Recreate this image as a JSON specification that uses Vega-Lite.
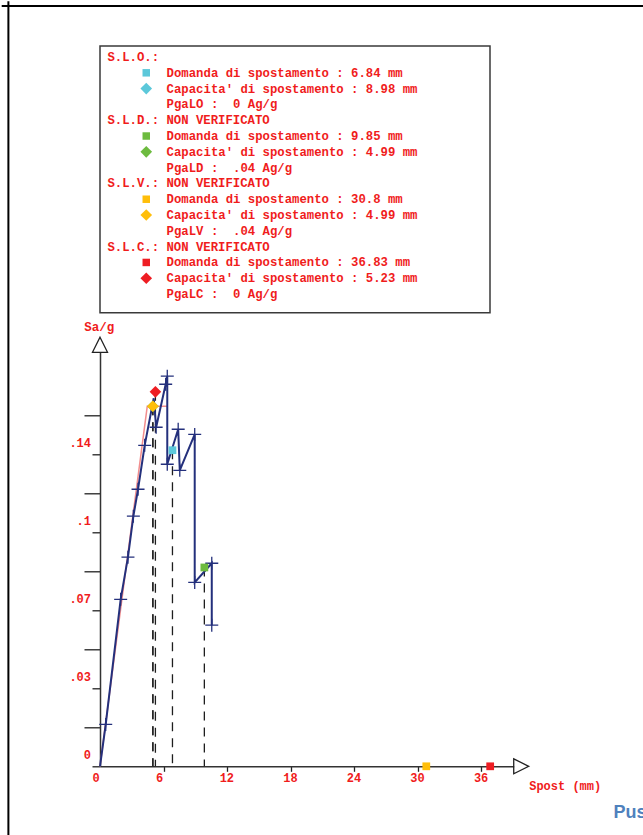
{
  "$schema": "https://vega.github.io/schema/vega-lite/v6.json",
  "background": "white",
  "padding": 0,
  "autosize": {"type": "pad"},
  "bounds": "flush",
  "spacing": 39.3,
  "config": {"view": {"stroke": null}},
  "datasets": {
    "legenda": [
      {"riga": 0, "col": 0, "testo": "S.L.O.:"},
      {"riga": 1, "col": 8, "testo": "Domanda di spostamento : 6.84 mm"},
      {"riga": 2, "col": 8, "testo": "Capacita' di spostamento : 8.98 mm"},
      {"riga": 3, "col": 8, "testo": "PgaLO :\u00a0\u00a00 Ag/g"},
      {"riga": 4, "col": 0, "testo": "S.L.D.: NON VERIFICATO"},
      {"riga": 5, "col": 8, "testo": "Domanda di spostamento : 9.85 mm"},
      {"riga": 6, "col": 8, "testo": "Capacita' di spostamento : 4.99 mm"},
      {"riga": 7, "col": 8, "testo": "PgaLD :\u00a0\u00a0.04 Ag/g"},
      {"riga": 8, "col": 0, "testo": "S.L.V.: NON VERIFICATO"},
      {"riga": 9, "col": 8, "testo": "Domanda di spostamento : 30.8 mm"},
      {"riga": 10, "col": 8, "testo": "Capacita' di spostamento : 4.99 mm"},
      {"riga": 11, "col": 8, "testo": "PgaLV :\u00a0\u00a0.04 Ag/g"},
      {"riga": 12, "col": 0, "testo": "S.L.C.: NON VERIFICATO"},
      {"riga": 13, "col": 8, "testo": "Domanda di spostamento : 36.83 mm"},
      {"riga": 14, "col": 8, "testo": "Capacita' di spostamento : 5.23 mm"},
      {"riga": 15, "col": 8, "testo": "PgaLC :\u00a0\u00a00 Ag/g"}
    ],
    "stati": [
      {"stato": "SLO", "tipo": "domanda", "riga": 1, "spost": 6.84, "sa": 0.1418},
      {"stato": "SLO", "tipo": "capacita", "riga": 2, "spost": 8.98},
      {"stato": "SLD", "tipo": "domanda", "riga": 5, "spost": 9.85, "sa": 0.0892},
      {"stato": "SLD", "tipo": "capacita", "riga": 6, "spost": 4.99, "sa": 0.1615},
      {"stato": "SLV", "tipo": "domanda", "riga": 9, "spost": 30.8, "sa": 0},
      {"stato": "SLV", "tipo": "capacita", "riga": 10, "spost": 4.99, "sa": 0.1615},
      {"stato": "SLC", "tipo": "domanda", "riga": 13, "spost": 36.83, "sa": 0},
      {"stato": "SLC", "tipo": "capacita", "riga": 14, "spost": 5.23, "sa": 0.168}
    ],
    "curva": [
      {"i": 0, "spost": 0, "sa": 0, "nodo": false},
      {"i": 1, "spost": 0.54, "sa": 0.0188, "nodo": true},
      {"i": 2, "spost": 1.95, "sa": 0.0749, "nodo": true},
      {"i": 3, "spost": 2.64, "sa": 0.0938, "nodo": true},
      {"i": 4, "spost": 3.15, "sa": 0.1122, "nodo": true},
      {"i": 5, "spost": 3.59, "sa": 0.1243, "nodo": true},
      {"i": 6, "spost": 4.22, "sa": 0.144, "nodo": true},
      {"i": 7, "spost": 5.07, "sa": 0.1651, "nodo": false},
      {"i": 8, "spost": 5.3, "sa": 0.1521, "nodo": true},
      {"i": 9, "spost": 6.2, "sa": 0.1714, "nodo": true},
      {"i": 10, "spost": 6.35, "sa": 0.175, "nodo": true},
      {"i": 11, "spost": 6.35, "sa": 0.1355, "nodo": true},
      {"i": 12, "spost": 7.38, "sa": 0.1512, "nodo": true},
      {"i": 13, "spost": 7.53, "sa": 0.1328, "nodo": true},
      {"i": 14, "spost": 8.94, "sa": 0.1489, "nodo": true},
      {"i": 15, "spost": 8.94, "sa": 0.0825, "nodo": true},
      {"i": 16, "spost": 10.55, "sa": 0.0911, "nodo": true},
      {"i": 17, "spost": 10.55, "sa": 0.0633, "nodo": true}
    ],
    "bilineare": [
      {"i": 0, "spost": 0, "sa": 0},
      {"i": 1, "spost": 4.46, "sa": 0.1615},
      {"i": 2, "spost": 6.35, "sa": 0.1615}
    ]
  },
  "vconcat": [
    {
      "width": 390,
      "height": 266.7,
      "view": {"stroke": "#3a3a3a", "strokeWidth": 1.5},
      "layer": [
        {
          "data": {"name": "legenda"},
          "mark": {"type": "text", "align": "left", "baseline": "middle", "font": "Liberation Mono", "fontSize": 12.3, "fontWeight": "bold", "color": "#f01c1c"},
          "encoding": {
            "x": {"field": "col", "type": "quantitative", "scale": {"domain": [-1, 51.7], "nice": false, "zero": false}, "axis": null},
            "y": {"field": "riga", "type": "quantitative", "scale": {"domain": [-0.696, 16.18], "nice": false, "zero": false, "reverse": true}, "axis": null},
            "text": {"field": "testo"}
          }
        },
        {
          "data": {"name": "stati"},
          "transform": [{"filter": "datum.tipo == 'domanda'"}],
          "mark": {"type": "point", "shape": "square", "filled": true, "opacity": 1, "size": 56},
          "encoding": {
            "x": {"datum": 5.25},
            "y": {"field": "riga", "type": "quantitative"},
            "color": {"field": "stato", "type": "nominal", "scale": {"domain": ["SLO", "SLD", "SLV", "SLC"], "range": ["#5cc8da", "#6dbb3f", "#ffbe0a", "#ee1d23"]}, "legend": null}
          }
        },
        {
          "data": {"name": "stati"},
          "transform": [{"filter": "datum.tipo == 'capacita'"}],
          "mark": {"type": "point", "shape": "diamond", "filled": true, "opacity": 1, "size": 135},
          "encoding": {
            "x": {"datum": 5.25},
            "y": {"field": "riga", "type": "quantitative"},
            "color": {"field": "stato", "type": "nominal", "legend": null}
          }
        }
      ]
    },
    {
      "width": 413.7,
      "height": 414,
      "layer": [
        {
          "data": {"name": "stati"},
          "transform": [{"filter": "isValid(datum.sa) && datum.sa > 0"}],
          "mark": {"type": "rule", "color": "#1e1e1e", "strokeWidth": 1.3, "strokeDash": [9, 7]},
          "encoding": {
            "x": {
              "field": "spost", "type": "quantitative",
              "scale": {"domain": [0, 39.05], "nice": false, "zero": false},
              "axis": {
                "values": [0, 3, 6, 9, 12, 15, 18, 21, 24, 27, 30, 33, 36],
                "grid": false,
                "domainColor": "#333333", "domainWidth": 1.5,
                "tickColor": "#222222", "tickWidth": 1.3,
                "tickSize": {"condition": {"test": "datum.value % 6 == 3", "value": 13}, "value": 5},
                "tickOpacity": {"condition": {"test": "datum.value == 0", "value": 0}, "value": 1},
                "labelExpr": "datum.value % 6 == 0 ? datum.label : ''",
                "labelAlign": "left", "labelBaseline": "middle", "labelOffset": -8, "labelPadding": 6.3,
                "labelFlush": false, "labelOverlap": false, "labelBound": false,
                "labelFont": "Liberation Mono", "labelFontSize": 12, "labelFontWeight": "bold", "labelColor": "#f01c1c",
                "title": "Spost (mm)", "titleX": 428.7, "titleY": 19, "titleAlign": "left", "titleBaseline": "middle", "titleAnchor": null,
                "titleFont": "Liberation Mono", "titleFontSize": 12, "titleFontWeight": "bold", "titleColor": "#f01c1c"
              }
            },
            "y": {
              "field": "sa", "type": "quantitative",
              "scale": {"domain": [0, 0.18573], "nice": false, "zero": false},
              "axis": {
                "values": [0, 0.0175, 0.035, 0.0525, 0.07, 0.0875, 0.105, 0.1225, 0.14, 0.1575],
                "grid": false,
                "domainColor": "#333333", "domainWidth": 1.5,
                "tickColor": "#222222", "tickWidth": 1.3,
                "tickSize": {"condition": {"test": "round(datum.value / 0.0175) % 2 == 1", "value": 16}, "value": 8},
                "labelExpr": "round(datum.value / 0.0175) % 2 == 0 ? replace(format(floor(datum.value * 100 + 0.000001) / 100, '.2~f'), '0.', '.') : ''",
                "labelAlign": "right", "labelBaseline": "middle", "labelOffset": -12, "labelPadding": 1.5,
                "labelFlush": false, "labelOverlap": false, "labelBound": false,
                "labelFont": "Liberation Mono", "labelFontSize": 12, "labelFontWeight": "bold", "labelColor": "#f01c1c",
                "title": "Sa/g", "titleAngle": 0, "titleX": -1.3, "titleY": -26, "titleAlign": "center", "titleBaseline": "middle", "titleAnchor": null,
                "titleFont": "Liberation Mono", "titleFontSize": 12.5, "titleFontWeight": "bold", "titleColor": "#f01c1c"
              }
            },
            "y2": {"datum": 0}
          }
        },
        {
          "data": {"name": "bilineare"},
          "mark": {"type": "line", "color": "#f28e8e", "strokeWidth": 1.5},
          "encoding": {
            "x": {"field": "spost", "type": "quantitative"},
            "y": {"field": "sa", "type": "quantitative"},
            "order": {"field": "i"}
          }
        },
        {
          "data": {"name": "curva"},
          "mark": {"type": "line", "color": "#24307c", "strokeWidth": 2},
          "encoding": {
            "x": {"field": "spost", "type": "quantitative"},
            "y": {"field": "sa", "type": "quantitative"},
            "order": {"field": "i"}
          }
        },
        {
          "data": {"name": "curva"},
          "transform": [{"filter": "datum.nodo"}],
          "mark": {"type": "point", "shape": "M-1,0L1,0M0,-1L0,1", "filled": false, "color": "#24307c", "strokeWidth": 1.3, "opacity": 1, "size": 169},
          "encoding": {
            "x": {"field": "spost", "type": "quantitative"},
            "y": {"field": "sa", "type": "quantitative"}
          }
        },
        {
          "data": {"name": "stati"},
          "transform": [{"filter": "datum.tipo == 'domanda' && isValid(datum.sa)"}],
          "mark": {"type": "point", "shape": "square", "filled": true, "opacity": 1, "size": 60},
          "encoding": {
            "x": {"field": "spost", "type": "quantitative"},
            "y": {"field": "sa", "type": "quantitative"},
            "color": {"field": "stato", "type": "nominal", "scale": {"domain": ["SLO", "SLD", "SLV", "SLC"], "range": ["#5cc8da", "#6dbb3f", "#ffbe0a", "#ee1d23"]}, "legend": null}
          }
        },
        {
          "data": {"name": "stati"},
          "transform": [{"filter": "datum.tipo == 'capacita' && isValid(datum.sa)"}],
          "mark": {"type": "point", "shape": "diamond", "filled": true, "opacity": 1, "size": 135},
          "encoding": {
            "x": {"field": "spost", "type": "quantitative"},
            "y": {"field": "sa", "type": "quantitative"},
            "color": {"field": "stato", "type": "nominal", "legend": null}
          }
        },
        {
          "data": {"values": [{}]},
          "mark": {"type": "point", "shape": "M0,-1L1,1L-1,1Z", "filled": false, "color": "#222222", "strokeWidth": 1.3, "opacity": 1, "size": 225},
          "encoding": {"x": {"datum": 0}, "y": {"datum": 0.1891}}
        },
        {
          "data": {"values": [{}]},
          "mark": {"type": "point", "shape": "M1,0L-1,-1L-1,1Z", "filled": false, "color": "#222222", "strokeWidth": 1.3, "opacity": 1, "size": 225},
          "encoding": {"x": {"datum": 39.76}, "y": {"datum": 0}}
        },
        {
          "data": {"values": [{}]},
          "mark": {"type": "rule", "color": "#000000", "strokeWidth": 2},
          "encoding": {"x": {"datum": -9.279}, "x2": {"datum": 51.3}, "y": {"datum": 0.3411}}
        },
        {
          "data": {"values": [{}]},
          "mark": {"type": "rule", "color": "#000000", "strokeWidth": 2},
          "encoding": {"x": {"datum": -8.647}, "y": {"datum": 0.3432}, "y2": {"datum": -0.03096}}
        },
        {
          "data": {"values": [{}]},
          "mark": {"type": "text", "text": "Pushover", "align": "left", "baseline": "middle", "font": "Liberation Sans", "fontSize": 18, "fontWeight": "bold", "color": "#4f81bd"},
          "encoding": {"x": {"datum": 48.46}, "y": {"datum": -0.02095}}
        }
      ]
    }
  ]
}
